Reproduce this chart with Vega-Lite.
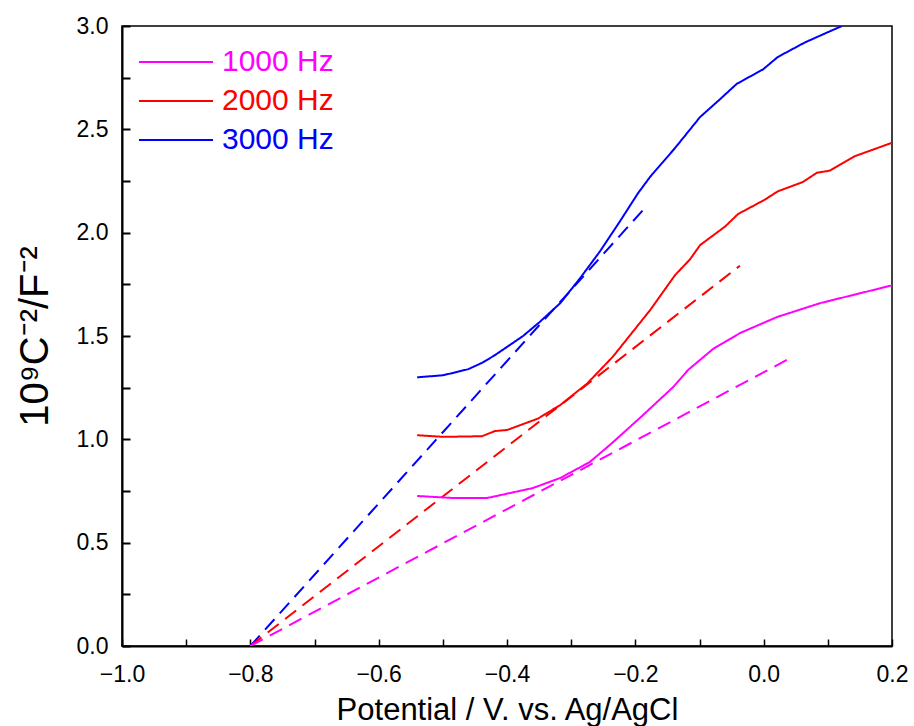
{
  "$schema": "https://vega.github.io/schema/vega-lite/v6.json",
  "autosize": {"type": "none"},
  "padding": {"left": 122, "top": 26, "right": 22, "bottom": 80},
  "width": 770,
  "height": 620,
  "background": "white",
  "config": {
    "view": {"stroke": "black", "strokeWidth": 1.5},
    "font": "Liberation Sans"
  },
  "data": {
    "values": [
      {"freq": "3000 Hz", "kind": "data", "x": -0.54, "y": 1.30},
      {"freq": "3000 Hz", "kind": "data", "x": -0.50, "y": 1.31},
      {"freq": "3000 Hz", "kind": "data", "x": -0.479, "y": 1.325},
      {"freq": "3000 Hz", "kind": "data", "x": -0.46, "y": 1.34},
      {"freq": "3000 Hz", "kind": "data", "x": -0.439, "y": 1.37},
      {"freq": "3000 Hz", "kind": "data", "x": -0.42, "y": 1.405},
      {"freq": "3000 Hz", "kind": "data", "x": -0.40, "y": 1.447},
      {"freq": "3000 Hz", "kind": "data", "x": -0.375, "y": 1.50},
      {"freq": "3000 Hz", "kind": "data", "x": -0.349, "y": 1.568},
      {"freq": "3000 Hz", "kind": "data", "x": -0.317, "y": 1.659},
      {"freq": "3000 Hz", "kind": "data", "x": -0.286, "y": 1.78},
      {"freq": "3000 Hz", "kind": "data", "x": -0.255, "y": 1.91},
      {"freq": "3000 Hz", "kind": "data", "x": -0.225, "y": 2.05},
      {"freq": "3000 Hz", "kind": "data", "x": -0.196, "y": 2.19},
      {"freq": "3000 Hz", "kind": "data", "x": -0.177, "y": 2.27},
      {"freq": "3000 Hz", "kind": "data", "x": -0.138, "y": 2.41},
      {"freq": "3000 Hz", "kind": "data", "x": -0.099, "y": 2.56},
      {"freq": "3000 Hz", "kind": "data", "x": -0.07, "y": 2.64},
      {"freq": "3000 Hz", "kind": "data", "x": -0.042, "y": 2.72},
      {"freq": "3000 Hz", "kind": "data", "x": -0.001, "y": 2.79},
      {"freq": "3000 Hz", "kind": "data", "x": 0.022, "y": 2.85},
      {"freq": "3000 Hz", "kind": "data", "x": 0.064, "y": 2.92},
      {"freq": "3000 Hz", "kind": "data", "x": 0.100, "y": 2.97},
      {"freq": "3000 Hz", "kind": "data", "x": 0.122, "y": 3.0},
      {"freq": "3000 Hz", "kind": "fit", "x": -0.80, "y": 0.0},
      {"freq": "3000 Hz", "kind": "fit", "x": -0.185, "y": 2.12},
      {"freq": "2000 Hz", "kind": "data", "x": -0.54, "y": 1.02},
      {"freq": "2000 Hz", "kind": "data", "x": -0.50, "y": 1.012},
      {"freq": "2000 Hz", "kind": "data", "x": -0.439, "y": 1.015},
      {"freq": "2000 Hz", "kind": "data", "x": -0.419, "y": 1.04},
      {"freq": "2000 Hz", "kind": "data", "x": -0.40, "y": 1.045},
      {"freq": "2000 Hz", "kind": "data", "x": -0.352, "y": 1.10},
      {"freq": "2000 Hz", "kind": "data", "x": -0.317, "y": 1.166},
      {"freq": "2000 Hz", "kind": "data", "x": -0.275, "y": 1.27},
      {"freq": "2000 Hz", "kind": "data", "x": -0.235, "y": 1.40},
      {"freq": "2000 Hz", "kind": "data", "x": -0.177, "y": 1.625},
      {"freq": "2000 Hz", "kind": "data", "x": -0.138, "y": 1.795},
      {"freq": "2000 Hz", "kind": "data", "x": -0.115, "y": 1.87},
      {"freq": "2000 Hz", "kind": "data", "x": -0.099, "y": 1.94},
      {"freq": "2000 Hz", "kind": "data", "x": -0.06, "y": 2.03},
      {"freq": "2000 Hz", "kind": "data", "x": -0.04, "y": 2.09},
      {"freq": "2000 Hz", "kind": "data", "x": 0.002, "y": 2.16},
      {"freq": "2000 Hz", "kind": "data", "x": 0.022, "y": 2.20},
      {"freq": "2000 Hz", "kind": "data", "x": 0.061, "y": 2.245},
      {"freq": "2000 Hz", "kind": "data", "x": 0.083, "y": 2.29},
      {"freq": "2000 Hz", "kind": "data", "x": 0.103, "y": 2.30},
      {"freq": "2000 Hz", "kind": "data", "x": 0.142, "y": 2.37},
      {"freq": "2000 Hz", "kind": "data", "x": 0.20, "y": 2.435},
      {"freq": "2000 Hz", "kind": "fit", "x": -0.80, "y": 0.0},
      {"freq": "2000 Hz", "kind": "fit", "x": -0.037, "y": 1.84},
      {"freq": "1000 Hz", "kind": "data", "x": -0.54, "y": 0.726},
      {"freq": "1000 Hz", "kind": "data", "x": -0.484, "y": 0.716},
      {"freq": "1000 Hz", "kind": "data", "x": -0.431, "y": 0.716},
      {"freq": "1000 Hz", "kind": "data", "x": -0.36, "y": 0.764},
      {"freq": "1000 Hz", "kind": "data", "x": -0.317, "y": 0.813},
      {"freq": "1000 Hz", "kind": "data", "x": -0.271, "y": 0.89},
      {"freq": "1000 Hz", "kind": "data", "x": -0.24, "y": 0.972},
      {"freq": "1000 Hz", "kind": "data", "x": -0.193, "y": 1.103},
      {"freq": "1000 Hz", "kind": "data", "x": -0.141, "y": 1.253},
      {"freq": "1000 Hz", "kind": "data", "x": -0.118, "y": 1.335},
      {"freq": "1000 Hz", "kind": "data", "x": -0.079, "y": 1.437},
      {"freq": "1000 Hz", "kind": "data", "x": -0.037, "y": 1.514},
      {"freq": "1000 Hz", "kind": "data", "x": 0.021, "y": 1.592},
      {"freq": "1000 Hz", "kind": "data", "x": 0.088, "y": 1.659},
      {"freq": "1000 Hz", "kind": "data", "x": 0.20, "y": 1.745},
      {"freq": "1000 Hz", "kind": "fit", "x": -0.80, "y": 0.0},
      {"freq": "1000 Hz", "kind": "fit", "x": 0.036, "y": 1.384}
    ]
  },
  "mark": {"type": "line", "strokeWidth": 2, "clip": true},
  "encoding": {
    "x": {
      "field": "x",
      "type": "quantitative",
      "scale": {"domain": [-1.0, 0.2], "nice": false, "zero": false},
      "axis": {
        "title": "Potential / V. vs. Ag/AgCl",
        "titleFont": "Liberation Sans",
        "titleFontSize": 31,
        "titleFontWeight": "normal",
        "titleColor": "black",
        "titlePadding": 9,
        "values": [-1.0, -0.9, -0.8, -0.7, -0.6, -0.5, -0.4, -0.3, -0.2, -0.1, 0.0, 0.1, 0.2],
        "labelExpr": "abs(datum.value*5-round(datum.value*5))<0.001 ? format(datum.value, '.1f') : ''",
        "labelFont": "Liberation Sans",
        "labelFontSize": 23,
        "labelColor": "black",
        "labelPadding": 24,
        "labelFlush": false,
        "labelOverlap": false,
        "tickColor": "black",
        "tickWidth": 1.5,
        "tickSize": -7,
        "domainColor": "black",
        "domainWidth": 2,
        "grid": false
      }
    },
    "y": {
      "field": "y",
      "type": "quantitative",
      "scale": {"domain": [0, 3.0], "nice": false},
      "axis": {
        "title": "10⁹C⁻²/F⁻²",
        "titleFont": "Liberation Sans",
        "titleFontSize": 40,
        "titleFontWeight": "normal",
        "titleColor": "black",
        "titlePadding": 21,
        "values": [0, 0.25, 0.5, 0.75, 1.0, 1.25, 1.5, 1.75, 2.0, 2.25, 2.5, 2.75, 3.0],
        "labelExpr": "abs(datum.value*2-round(datum.value*2))<0.001 ? format(datum.value, '.1f') : ''",
        "labelFont": "Liberation Sans",
        "labelFontSize": 23,
        "labelColor": "black",
        "labelPadding": 22,
        "labelFlush": false,
        "labelOverlap": false,
        "tickColor": "black",
        "tickWidth": 2,
        "tickSize": -8,
        "domainColor": "black",
        "domainWidth": 2,
        "grid": false,
        "encode": {"ticks": {"update": {"x": {"value": 0}, "x2": {"value": 8}, "stroke": {"value": "black"}, "strokeWidth": {"value": 2}, "opacity": {"value": 1}}}}
      }
    },
    "color": {
      "field": "freq",
      "type": "nominal",
      "scale": {"domain": ["1000 Hz", "2000 Hz", "3000 Hz"], "range": ["#FF00FF", "#FF0000", "#0000FF"]},
      "legend": {
        "title": null,
        "orient": "none",
        "legendX": 38,
        "legendY": 20,
        "symbolType": "M-2.47,0H2.47",
        "symbolSize": 900,
        "symbolStrokeWidth": 2,
        "symbolFillColor": "transparent",
        "labelFont": "Liberation Sans",
        "labelFontSize": 30,
        "labelLimit": 300,
        "labelOffset": 30,
        "rowPadding": 8,
        "padding": 0,
        "encode": {
          "labels": {"update": {"fill": {"scale": "color", "field": "value"}}},
          "symbols": {"update": {"fill": {"value": "transparent"}}}
        }
      }
    },
    "strokeDash": {
      "field": "kind",
      "type": "nominal",
      "scale": {"domain": ["data", "fit"], "range": [[1, 0], [14, 8]]},
      "legend": null
    },
    "detail": {"field": "kind"}
  }
}
